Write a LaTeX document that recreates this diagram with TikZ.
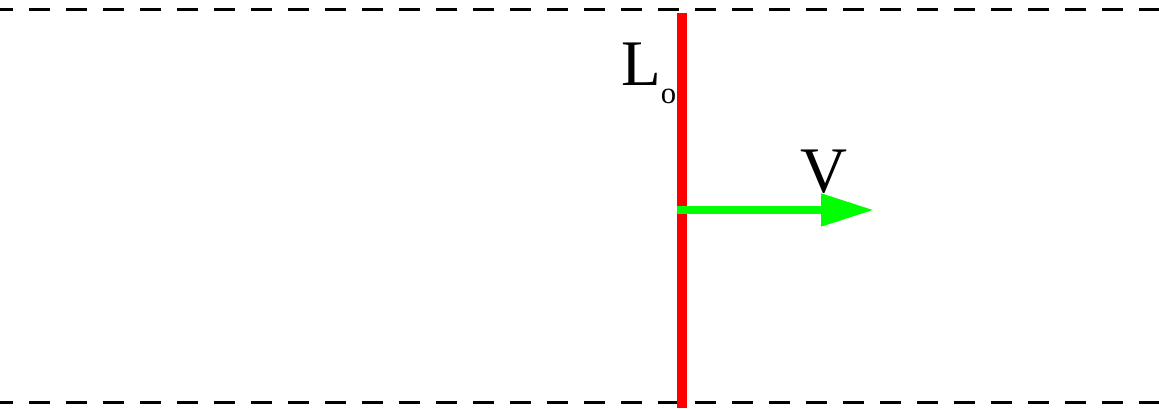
\documentclass[tikz,border=0pt]{standalone}
\usepackage{fontspec}
\setmainfont{Liberation Serif}
\usetikzlibrary{arrows.meta}

\begin{document}
\begin{tikzpicture}[
    x=0.75pt, y=-0.75pt,
    every node/.style={inner sep=0pt, font=\fontsize{48.75}{50}\selectfont},
    boundary/.style={
        draw=black,
        line width=2.25pt,
        dash pattern=on 15.75pt off 12pt,
        dash phase=6pt,
    },
    rod/.style={
        draw=rodred,
        line width=7.5pt,
    },
    velocity/.style={
        draw=velgreen,
        line width=6pt,
        -{Triangle[length=39.75pt, width=23.25pt]},
    }
]

% Colors matching the original
\definecolor{rodred}{HTML}{FF0000}
\definecolor{velgreen}{HTML}{00FF00}

% Canvas
\useasboundingbox (0,0) rectangle (1159,409);

% Channel walls
\coordinate (topL) at (0,10);
\coordinate (topR) at (1159,10);
\coordinate (botL) at (0,402);
\coordinate (botR) at (1159,402);
\draw[boundary] (topL) -- (topR);
\draw[boundary] (botL) -- (botR);

% Rod
\coordinate (rodtop) at (682,13);
\coordinate (rodbot) at (682,408);
\draw[rod] (rodtop) -- (rodbot);

% Velocity arrow
\coordinate (base) at (677,210);
\coordinate (tip) at (874,210);
\draw[velocity] (base) -- (tip);

% Labels
\node[anchor=base west] (Llabel) at (621,86)
    {L\raisebox{-13.5pt}{\fontsize{23}{24}\selectfont o}};
\node[anchor=base] (Vlabel) at (824,193) {V};

\end{tikzpicture}
\end{document}
